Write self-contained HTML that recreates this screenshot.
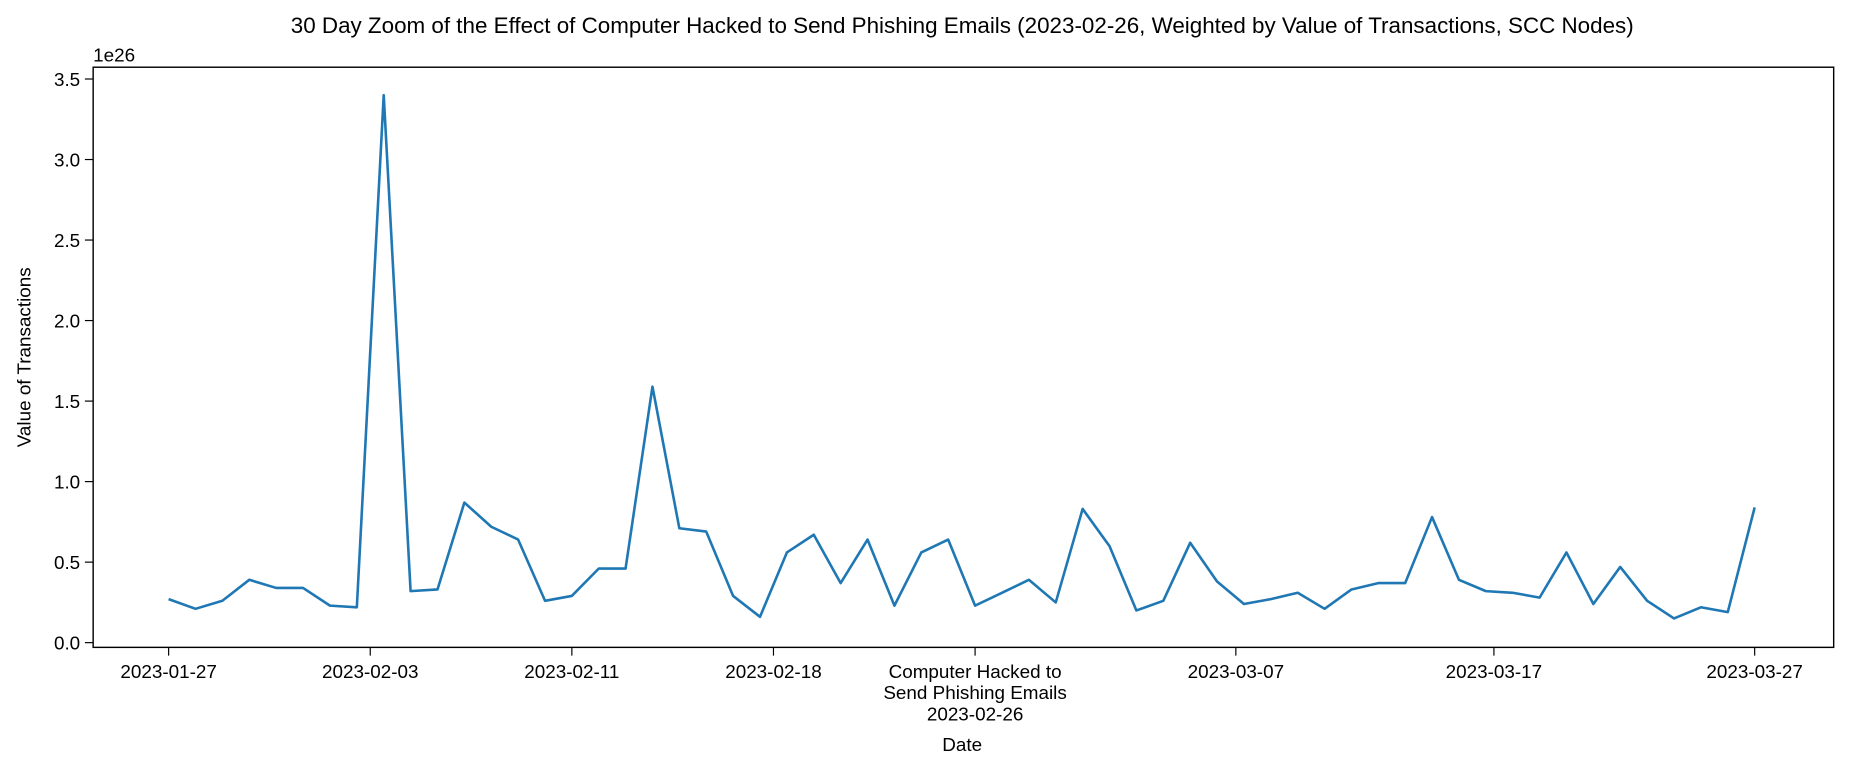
<!DOCTYPE html>
<html><head><meta charset="utf-8"><style>
body{margin:0;background:#fff;overflow:hidden;}
svg{display:block;}
svg text{font-family:"Liberation Sans","DejaVu Sans",sans-serif;fill:#000;}
</style></head><body>
<svg id="chart" width="1849" height="770" viewBox="0 0 1568 653" preserveAspectRatio="none">
<rect width="1568" height="653" fill="#fff"/>
<text x="816" y="28" font-size="19" text-anchor="middle">30 Day Zoom of the Effect of Computer Hacked to Send Phishing Emails (2023-02-26, Weighted by Value of Transactions, SCC Nodes)</text>
<text x="79" y="52" font-size="16">1e26</text>
<g id="yticks"></g><g id="xticks"></g>
<path id="line" fill="none" stroke="#1f77b4" stroke-width="2.2" stroke-linejoin="round"/>
<rect x="79" y="57" width="1476" height="492" fill="none" stroke="#000" stroke-width="1.2"/>
<text x="26" y="303" font-size="16" text-anchor="middle" transform="rotate(-90 26 303)">Value of Transactions</text>
<text x="816" y="637" font-size="16" text-anchor="middle">Date</text>
</svg>
<script>
const values = [0.27,0.21,0.26,0.39,0.34,0.34,0.23,0.22,3.40,0.32,0.33,0.87,0.72,0.64,0.26,0.29,0.46,0.46,1.59,0.71,0.69,0.29,0.16,0.56,0.67,0.37,0.64,0.23,0.56,0.64,0.23,0.31,0.39,0.25,0.83,0.60,0.20,0.26,0.62,0.38,0.24,0.27,0.31,0.21,0.33,0.37,0.37,0.78,0.39,0.32,0.31,0.28,0.56,0.24,0.47,0.26,0.15,0.22,0.19,0.84];
const yTicks = [0,0.5,1.0,1.5,2.0,2.5,3.0,3.5];
const xTickIdx = [0,7.5,15,22.5,30,39.7,49.3,59];
const xTickLabels = [["2023-01-27"],["2023-02-03"],["2023-02-11"],["2023-02-18"],["Computer Hacked to","Send Phishing Emails","2023-02-26"],["2023-03-07"],["2023-03-17"],["2023-03-27"]];
const NS="http://www.w3.org/2000/svg";
const xs=i=>143+i*(1488-143)/59;
const ys=v=>545-v*(545-67)/3.5;
const yg=document.getElementById('yticks');
yTicks.forEach(t=>{
 const l=document.createElementNS(NS,'line');
 l.setAttribute('x1',72);l.setAttribute('x2',79);l.setAttribute('y1',ys(t));l.setAttribute('y2',ys(t));l.setAttribute('stroke','#000');
 
 
 yg.appendChild(l);
 const tx=document.createElementNS(NS,'text');
 tx.setAttribute('x',68);tx.setAttribute('y',ys(t)+6);tx.setAttribute('font-size','16');tx.setAttribute('text-anchor','end');
 tx.textContent=t.toFixed(1);
 
 
 yg.appendChild(tx);
});
const xg=document.getElementById('xticks');
xTickIdx.forEach((d,k)=>{
 const x=xs(d);
 const l=document.createElementNS(NS,'line');
 l.setAttribute('x1',x);l.setAttribute('x2',x);l.setAttribute('y1',549);l.setAttribute('y2',556);l.setAttribute('stroke','#000');
 
 
 xg.appendChild(l);
 xTickLabels[k].forEach((s,j)=>{
  const tx=document.createElementNS(NS,'text');
  tx.setAttribute('x',x);tx.setAttribute('y',575+j*18);tx.setAttribute('font-size','16');tx.setAttribute('text-anchor','middle');
  tx.textContent=s;
  
  
  xg.appendChild(tx);
 });
});
document.getElementById('line').setAttribute('d',values.map((v,i)=>(i?'L':'M')+xs(i).toFixed(1)+' '+ys(v).toFixed(1)).join(' '));
</script>
</body></html>
